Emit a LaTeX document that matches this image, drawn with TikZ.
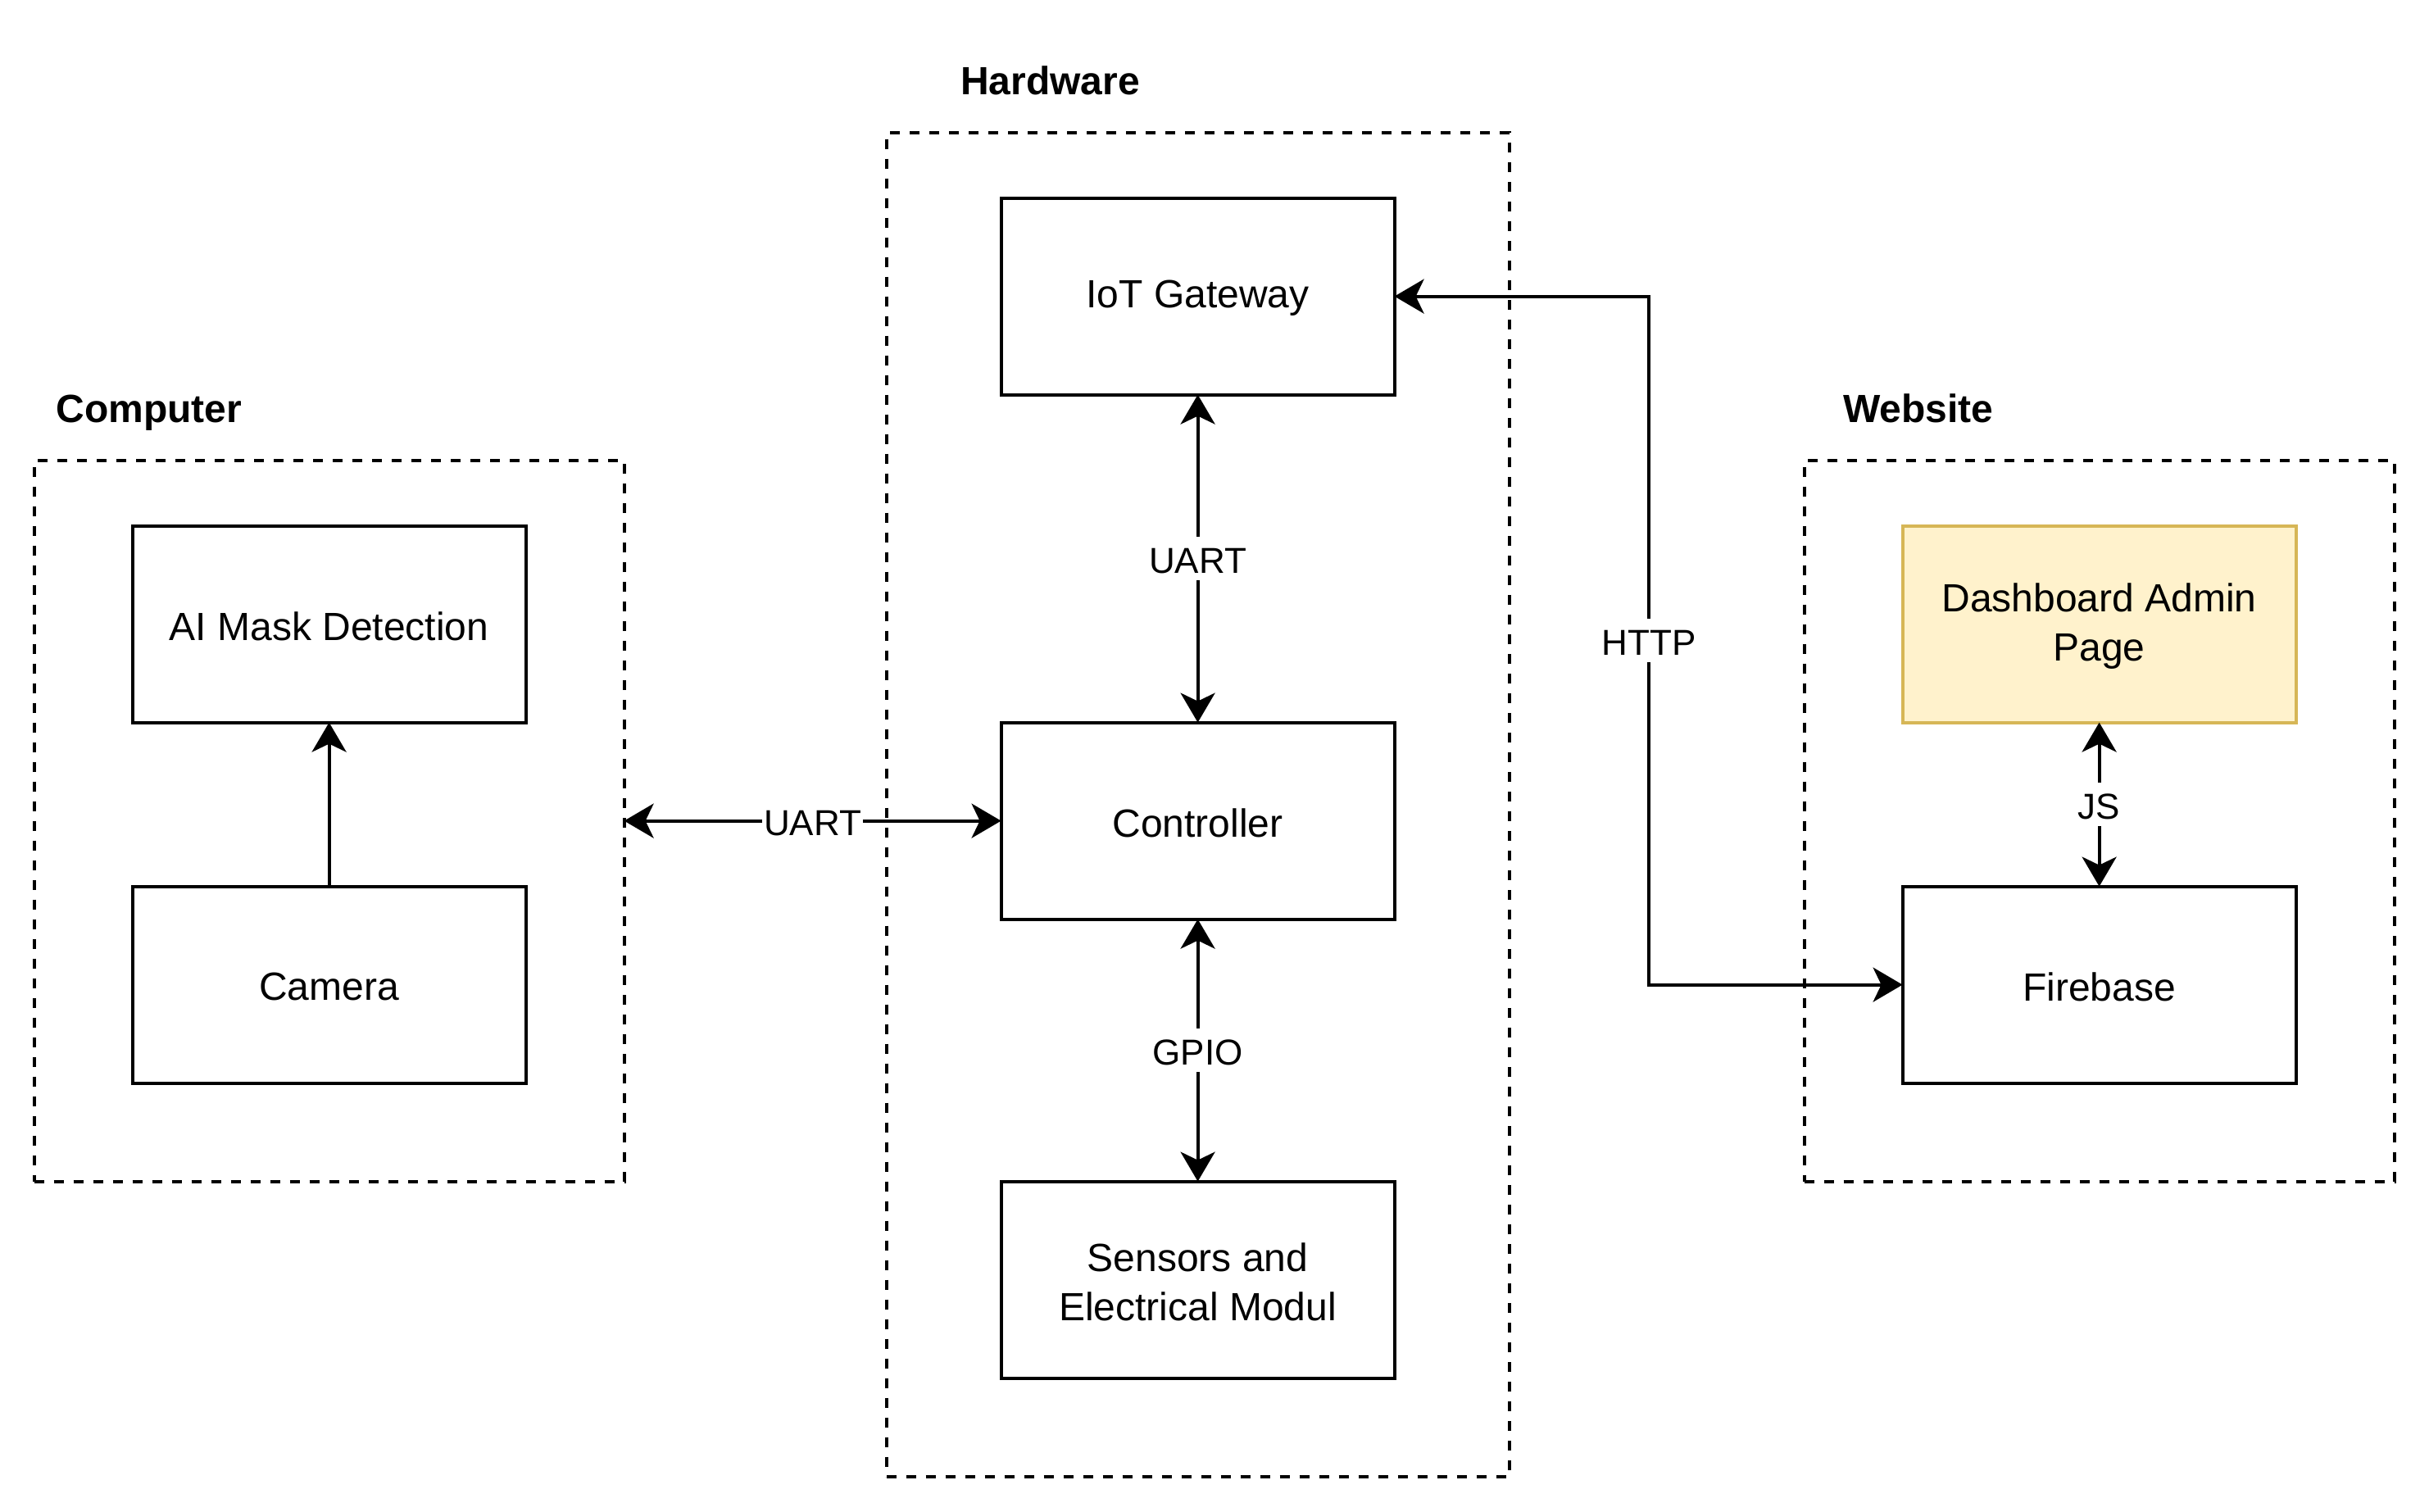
\documentclass[tikz,border=0pt]{standalone}
\usepackage{fontspec}
\setmainfont{Liberation Sans}
\usetikzlibrary{arrows.meta}
\definecolor{dashfill}{HTML}{FFF2CC}
\definecolor{dashline}{HTML}{D6B656}
\begin{document}
\begin{tikzpicture}[x=1pt,y=-1pt,
  every node/.style={inner sep=0pt,outer sep=0pt},
  blockbox/.style={draw=black,line width=1pt,minimum width=120pt,minimum height=60pt},
  blocktext/.style={align=center,font=\fontsize{12}{15}\selectfont,yshift=-0.6pt},
  groupbox/.style={draw=black,line width=1pt,dash pattern=on 3pt off 3pt,minimum width=180pt},
  grouptitle/.style={font=\fontsize{12}{14}\selectfont\bfseries,text height=9pt,text depth=3pt},
  lbl/.style={fill=white,font=\fontsize{11}{13}\selectfont,inner xsep=0.5pt,inner ysep=2pt,text height=9.1pt,text depth=0pt},
  conn/.style={line width=1pt,draw=black},
  tipend/.style={-{Stealth[length=9pt,width=10.5pt,inset=2.5pt]}},
  tipboth/.style={{Stealth[length=9pt,width=10.5pt,inset=2.5pt]}-{Stealth[length=9pt,width=10.5pt,inset=2.5pt]}}
]
\useasboundingbox (-0.4,-0.4) rectangle (740.6,460.6);
% groups
\node[groupbox,minimum height=220pt] (comp) at (100,250) {};
\node[groupbox,minimum width=190pt,minimum height=410pt] (hw) at (365,245) {};
\node[groupbox,minimum height=220pt] (web) at (640,250) {};
\node[grouptitle] (tcomp) at (45.1,125.4) {Computer};
\node[grouptitle] (thw) at (320,25.5) {Hardware};
\node[grouptitle] (tweb) at (584.8,125.5) {Website};
% blocks
\node[blockbox,label={[blocktext]center:AI Mask Detection}] (ai) at (100,190) {};
\node[blockbox,label={[blocktext]center:Camera}] (cam) at (100,300) {};
\node[blockbox,label={[blocktext]center:IoT Gateway}] (iot) at (365,90) {};
\node[blockbox,label={[blocktext]center:Controller}] (ctl) at (365,250) {};
\node[blockbox,label={[blocktext]center:Sensors and\\Electrical Modul}] (sen) at (365,390) {};
\node[blockbox,fill=dashfill,draw=dashline,label={[blocktext]center:Dashboard Admin\\Page}] (dash) at (640,190) {};
\node[blockbox,label={[blocktext]center:Firebase}] (fire) at (640,300) {};
% connectors
\draw[conn,tipend] (cam.north) -- (ai.south);
\draw[conn,tipboth] (comp.east) -- node[lbl] {UART} (ctl.west);
\draw[conn,tipboth] (iot.south) -- node[lbl] {UART} (ctl.north);
\draw[conn,tipboth] (ctl.south) -- node[lbl] {GPIO} (sen.north);
\draw[conn,tipboth] (dash.south) -- node[lbl] {JS} (fire.north);
\coordinate (hx) at (502.6,90);
\coordinate (hy) at (502.6,300);
\draw[conn,tipboth] (iot.east) -- (hx) -- node[lbl] {HTTP} (hy) -- (fire.west);
\end{tikzpicture}
\end{document}
